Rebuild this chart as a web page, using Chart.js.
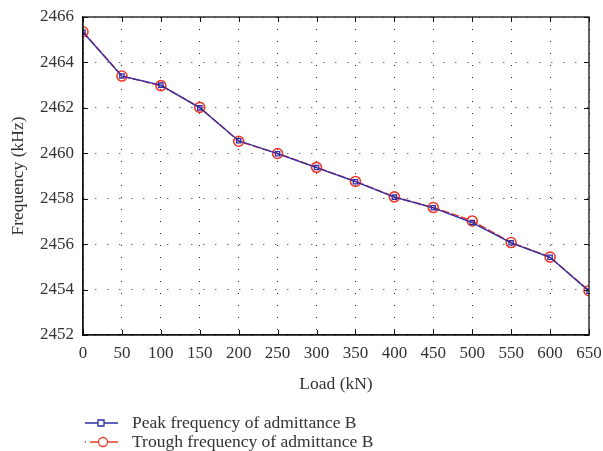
<!DOCTYPE html>
<html>
<head>
<meta charset="utf-8">
<script src="https://cdn.jsdelivr.net/npm/chart.js@4"></script>
<style>
  html, body { margin: 0; padding: 0; background: #fff; }
  #wrap { width: 603px; height: 451px; }
</style>
</head>
<body>
<div id="wrap"><canvas id="chart" width="603" height="451"></canvas></div>
<script>
// values
const loads = [0, 50, 100, 150, 200, 250, 300, 350, 400, 450, 500, 550, 600, 650];
const peakFreq = [2465.33, 2463.40, 2463.00, 2462.00, 2460.55, 2459.98, 2459.37, 2458.75, 2458.07, 2457.60, 2456.95, 2456.06, 2455.42, 2453.93];
const troughFreq = [2465.35, 2463.40, 2462.98, 2462.02, 2460.53, 2459.99, 2459.38, 2458.76, 2458.08, 2457.61, 2457.02, 2456.07, 2455.43, 2453.95];
const seriesNames = ["Peak frequency of admittance B", "Trough frequency of admittance B"];
const xTicks = [0, 50, 100, 150, 200, 250, 300, 350, 400, 450, 500, 550, 600, 650];
const yTicks = [2452, 2454, 2456, 2458, 2460, 2462, 2464, 2466];

const FONT = "'Liberation Serif', 'DejaVu Serif', serif";
const BLUE = "#2d2da8";
const RED = "#ee3b2b";

// box, inward tick marks and the legend underneath
const framePlugin = {
  id: "frame",
  afterDraw(chart) {
    const { ctx, chartArea: a, scales } = chart;
    ctx.save();
    ctx.strokeStyle = "#111";
    ctx.lineWidth = 1.3;
    ctx.strokeRect(a.left, a.top, a.right - a.left, a.bottom - a.top);
    ctx.lineWidth = 1;
    ctx.beginPath();
    xTicks.forEach(v => {
      const x = Math.round(scales.x.getPixelForValue(v)) + 0.5;
      ctx.moveTo(x, a.bottom); ctx.lineTo(x, a.bottom - 5);
      ctx.moveTo(x, a.top); ctx.lineTo(x, a.top + 5);
    });
    yTicks.forEach(v => {
      const y = Math.round(scales.y.getPixelForValue(v)) + 0.5;
      ctx.moveTo(a.left, y); ctx.lineTo(a.left + 5, y);
      ctx.moveTo(a.right, y); ctx.lineTo(a.right - 5, y);
    });
    ctx.stroke();

    // legend
    const rows = [
      { y: 423, color: BLUE, dash: [], shape: "rect" },
      { y: 442, color: RED, dash: [1, 4, 10, 3], shape: "circle" }
    ];
    rows.forEach((r, i) => {
      ctx.strokeStyle = r.color;
      ctx.lineWidth = 1.3;
      ctx.setLineDash(r.dash);
      ctx.beginPath();
      ctx.moveTo(85, r.y); ctx.lineTo(118, r.y);
      ctx.stroke();
      ctx.setLineDash([]);
      ctx.fillStyle = "#fff";
      ctx.beginPath();
      if (r.shape === "rect") ctx.rect(98, r.y - 3, 6, 6);
      else ctx.arc(103, r.y, 4.5, 0, Math.PI * 2);
      ctx.fill();
      ctx.stroke();
      ctx.fillStyle = "#333";
      ctx.font = "17.5px " + FONT;
      ctx.textBaseline = "middle";
      ctx.textAlign = "left";
      ctx.fillText(seriesNames[i], 132, r.y);
    });
    ctx.restore();
  }
};

new Chart(document.getElementById("chart"), {
  type: "line",
  data: {
    datasets: [
      {
        label: seriesNames[0],
        data: loads.map((x, i) => ({ x: x, y: peakFreq[i] })),
        borderColor: BLUE,
        backgroundColor: "rgba(255,255,255,0)",
        borderWidth: 1.3,
        pointStyle: "rect",
        pointRadius: 3,
        pointBorderWidth: 1.3,
        pointBorderColor: BLUE,
        order: 1
      },
      {
        label: seriesNames[1],
        data: loads.map((x, i) => ({ x: x, y: troughFreq[i] })),
        borderColor: RED,
        backgroundColor: "rgba(255,255,255,0)",
        borderWidth: 1.6,
        borderDash: [8, 2],
        pointStyle: "circle",
        pointRadius: 5,
        pointBorderWidth: 1.6,
        pointBorderColor: RED,
        order: 2
      }
    ]
  },
  options: {
    responsive: false,
    animation: false,
    layout: { padding: { left: 4, top: 17, right: 14, bottom: 52 } },
    plugins: { legend: { display: false }, tooltip: { enabled: false } },
    scales: {
      x: {
        type: "linear",
        min: 0, max: 650,
        afterBuildTicks: s => { s.ticks = xTicks.map(v => ({ value: v })); },
        afterFit: s => { s.height = 64; s.paddingLeft = 0; s.paddingRight = 0; },
        grid: { color: "#222", lineWidth: 1, drawTicks: false },
        border: { display: true, color: "#111", width: 1.3, dash: [1, 11] },
        ticks: { color: "#333", padding: 8, maxRotation: 0, callback: v => String(v), font: { family: FONT, size: 17 } },
        title: { display: true, text: "Load (kN)", color: "#333", padding: { top: 3 }, font: { family: FONT, size: 17.5 } }
      },
      y: {
        min: 2452, max: 2466,
        afterBuildTicks: s => { s.ticks = yTicks.map(v => ({ value: v })); },
        afterFit: s => { s.width = 79; s.paddingTop = 0; s.paddingBottom = 0; },
        grid: { color: "#222", lineWidth: 1, drawTicks: false },
        border: { display: true, color: "#111", width: 1.3, dash: [1, 11] },
        ticks: { color: "#333", padding: 9, callback: v => String(v), font: { family: FONT, size: 17 } },
        title: { display: true, text: "Frequency (kHz)", color: "#333", padding: { bottom: 2 }, font: { family: FONT, size: 17.5 } }
      }
    }
  },
  plugins: [framePlugin]
});
</script>
</body>
</html>
